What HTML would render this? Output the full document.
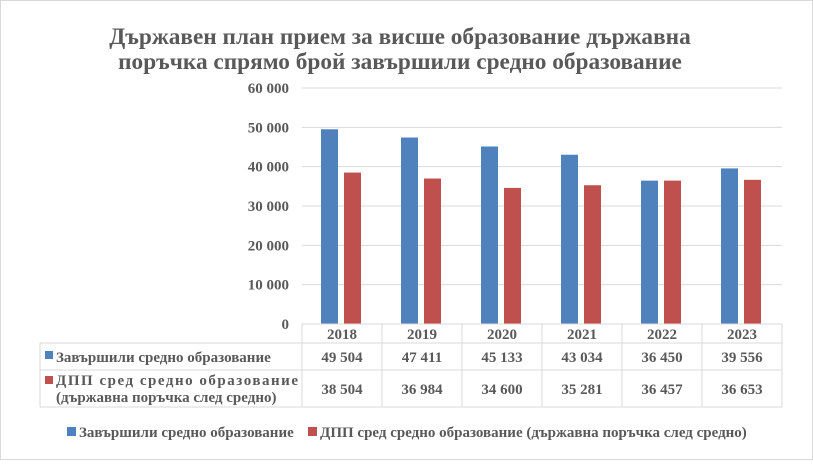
<!DOCTYPE html>
<html><head><meta charset="utf-8"><style>
body{margin:0;background:#fff}
svg text{font-family:"Liberation Serif",serif;font-weight:bold;fill:#595959}
</style></head><body>
<svg id="c" width="813" height="460" xmlns="http://www.w3.org/2000/svg">
<rect x="0.5" y="0.5" width="812" height="459" fill="#fff" stroke="#d9d9d9"/>
<text x="400" y="44" font-size="23.3" text-anchor="middle">Държавен план прием за висше образование държавна</text>
<text x="400" y="69" font-size="23.3" text-anchor="middle">поръчка спрямо брой завършили средно образование</text>
<g id="grid"></g><g id="bars"></g><g id="table"></g>
<g>
<rect x="67" y="427" width="9" height="9" fill="#4f81bd"/>
<text x="79" y="437" font-size="15">Завършили средно образование</text>
<rect x="308" y="427" width="9" height="9" fill="#c0504d"/>
<text x="320" y="437" font-size="15">ДПП сред средно образование (държавна поръчка след средно)</text>
</g>
</svg>
<script>
const categories=["2018","2019","2020","2021","2022","2023"];
const graduates=[49504,47411,45133,43034,36450,39556];
const dpp=[38504,36984,34600,35281,36457,36653];
const yTicks=[0,10000,20000,30000,40000,50000,60000];
const NS="http://www.w3.org/2000/svg";
const L=302,R=782,Y0=324,Ymax=88,MAX=60000,cw=(R-L)/categories.length;
const y=v=>Y0-(v/MAX)*(Y0-Ymax);
const xc=i=>L+cw*(i+0.5);
const fmt=v=>{const s=String(v);return s.length>3?s.slice(0,-3)+" "+s.slice(-3):s;};
function mk(tag,attrs,parent,txt){const e=document.createElementNS(NS,tag);for(const k in attrs)e.setAttribute(k,attrs[k]);if(txt!=null)e.textContent=txt;parent.appendChild(e);return e;}
const grid=document.getElementById('grid'),bars=document.getElementById('bars'),tb=document.getElementById('table');
yTicks.forEach(t=>{
 if(t>0){const l=mk('line',{x1:L,x2:R,y1:y(t),y2:y(t),stroke:'#d9d9d9'},grid);
 
 }
 const tx=mk('text',{x:L-13,y:y(t)+5,'font-size':15,'text-anchor':'end'},grid,fmt(t));
 
 
});
categories.forEach((c,i)=>{
 const b=mk('rect',{x:xc(i)-21,y:y(graduates[i]),width:17,height:Y0-y(graduates[i]),fill:'#4f81bd'},bars);
 
 
 const r=mk('rect',{x:xc(i)+2,y:y(dpp[i]),width:17,height:Y0-y(dpp[i]),fill:'#c0504d'},bars);
 
 
 const ct=mk('text',{x:xc(i),y:339,'font-size':15,'text-anchor':'middle'},tb,c);
 
 
 const v1=mk('text',{x:xc(i),y:362,'font-size':15,'text-anchor':'middle'},tb,fmt(graduates[i]));
 
 
 const v2=mk('text',{x:xc(i),y:394,'font-size':15,'text-anchor':'middle'},tb,fmt(dpp[i]));
 
 
});
const lines=[[L,324,R,324],[L,343,R,343],[40,343,L,343],[40,370,R,370],[40,407,R,407],[40,343,40,407]];
for(let i=0;i<=categories.length;i++)lines.push([L+cw*i,324,L+cw*i,407]);
lines.forEach(a=>{const l=mk('line',{x1:a[0],y1:a[1],x2:a[2],y2:a[3],stroke:'#d9d9d9'},tb);
 
 });
const s1=mk('rect',{x:45,y:351,width:8,height:8,fill:'#4f81bd'},tb);


const t1=mk('text',{x:56,y:362,'font-size':15},tb,'Завършили средно образование');


const s2=mk('rect',{x:45,y:376,width:8,height:8,fill:'#c0504d'},tb);


const t2=mk('text',{x:56,y:385,'font-size':15,textLength:242,lengthAdjust:'spacing'},tb,'ДПП сред средно образование');


const t3=mk('text',{x:56,y:402,'font-size':15},tb,'(държавна поръчка след средно)');


</script>
</body></html>
